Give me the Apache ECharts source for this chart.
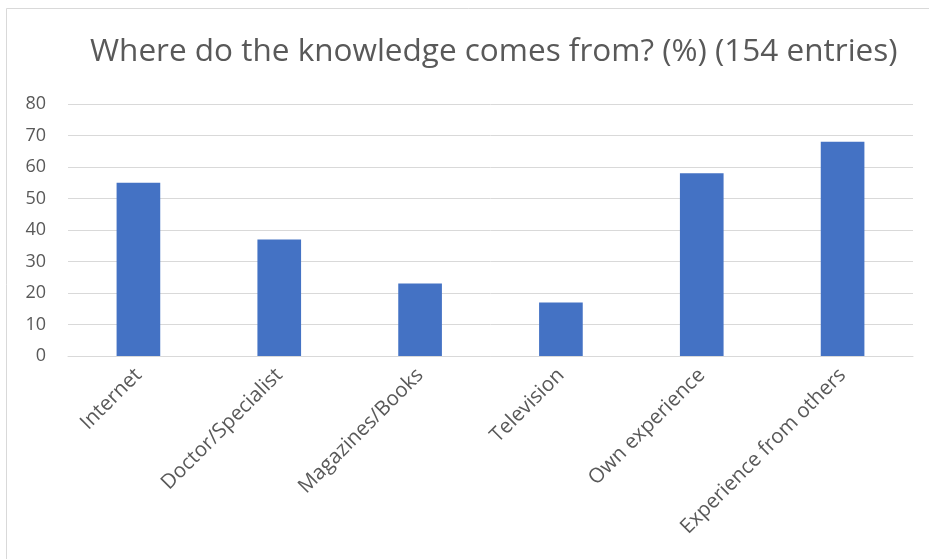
<!DOCTYPE html>
<html><head><meta charset="utf-8">
<script src="https://cdn.jsdelivr.net/npm/echarts@6/dist/echarts.min.js"></script>
<style>html,body{margin:0;padding:0;background:#fff}#c{width:929px;height:559px}</style>
</head><body><div id="c"></div>
<script>
const categories = ['Internet','Doctor/Specialist','Magazines/Books','Television','Own experience','Experience from others'];
const values = [55, 37, 23, 17, 58, 68];
const titleText = 'Where do the knowledge comes from? (%) (154 entries)';
const font = 'Open Sans';
const chart = echarts.init(document.getElementById('c'), null, {renderer:'canvas'});
chart.setOption({
  animation:false,
  backgroundColor:'#fff',
  graphic:[{type:'rect',shape:{x:6.5,y:8.5,width:1000,height:1000},style:{fill:'none',stroke:'#d9d9d9',lineWidth:1},silent:true}],
  title:{text:titleText,left:90,top:36,padding:0,textStyle:{fontFamily:font,fontSize:31.5,fontWeight:'normal',color:'#595959'}},
  grid:{left:68,right:16,top:104,bottom:203,containLabel:false},
  xAxis:{type:'category',data:categories,
    axisLine:{show:true,lineStyle:{color:'#d9d9d9',width:1}},
    axisTick:{show:false},
    axisLabel:{rotate:45,interval:0,margin:16,fontFamily:font,fontSize:20.5,color:'#595959'}},
  yAxis:{type:'value',min:0,max:80,interval:10,
    axisLine:{show:false},axisTick:{show:false},
    splitLine:{lineStyle:{color:'#d9d9d9',width:1}},
    axisLabel:{margin:22,fontFamily:font,fontSize:18,color:'#595959'}},
  series:[{type:'bar',data:values,barWidth:'31%',itemStyle:{color:'#4472C4'}}]
});
</script></body></html>
